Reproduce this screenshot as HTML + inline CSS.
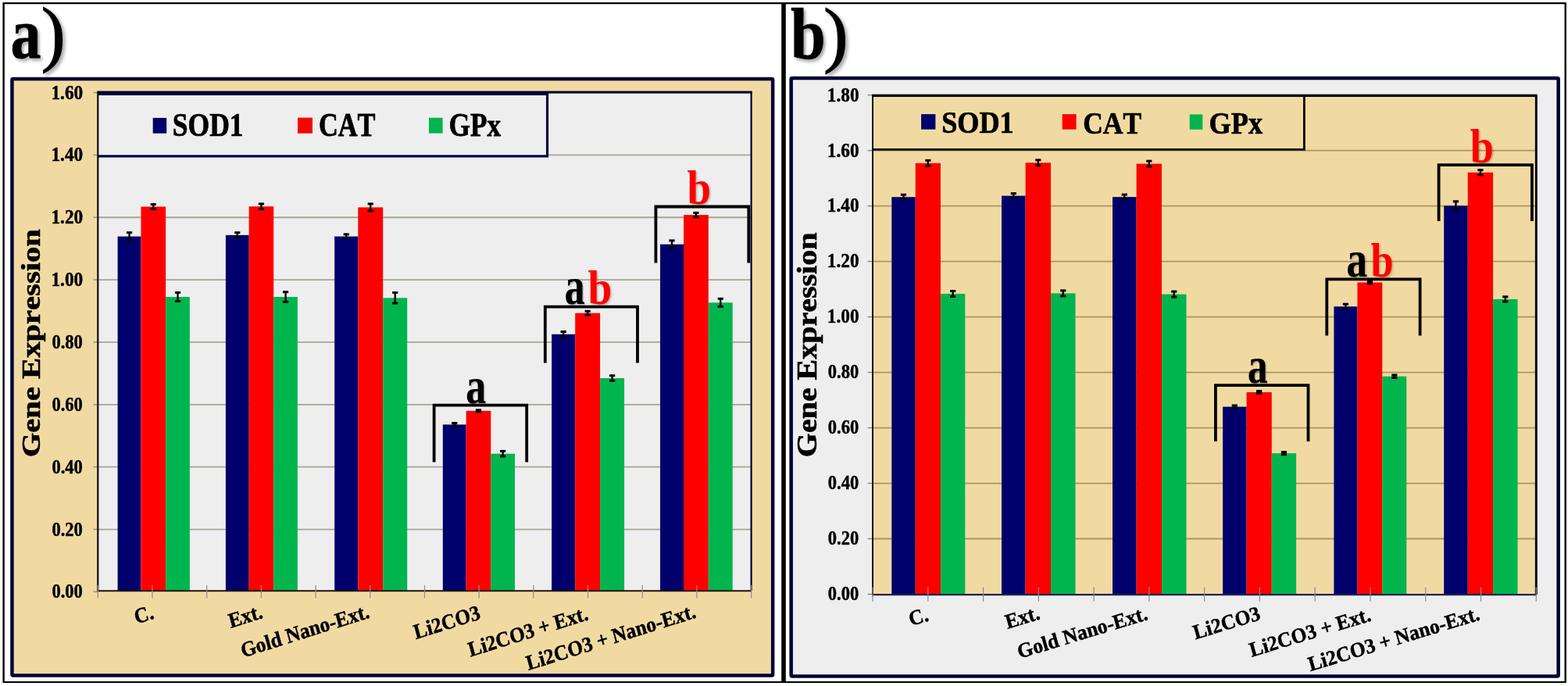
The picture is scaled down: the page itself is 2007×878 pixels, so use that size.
<!DOCTYPE html>
<html><head><meta charset="utf-8"><title>Gene Expression</title>
<style>html,body{margin:0;padding:0;background:#fff;width:2007px;height:878px;overflow:hidden}svg{display:block}</style>
</head><body>
<svg width="2007" height="878" viewBox="0 0 2007 878">
<defs>
<filter id="sh" x="-20%" y="-20%" width="150%" height="150%"><feDropShadow dx="3" dy="3" stdDeviation="2" flood-color="#000" flood-opacity="0.35"/></filter>
<filter id="sh2" x="-20%" y="-20%" width="150%" height="150%"><feDropShadow dx="1.5" dy="1.5" stdDeviation="1" flood-color="#000" flood-opacity="0.3"/></filter>
</defs>
<g font-family="'Liberation Serif', 'Times New Roman', serif" font-weight="bold" style="font-kerning:none;font-variant-ligatures:none">
<rect x="0" y="0" width="2007" height="878" fill="#fff"/>
<rect x="15.45" y="100.95" width="973.7" height="763.6" fill="#f1daa2" stroke="#000038" stroke-width="4.5" rx="1.2"/>
<rect x="125.3" y="118" width="836.3" height="638.2" fill="#eeeeee"/>
<line x1="125.3" y1="677.54" x2="961.6" y2="677.54" stroke="#a5a597" stroke-width="1.8"/>
<line x1="125.3" y1="597.68" x2="961.6" y2="597.68" stroke="#a5a597" stroke-width="1.8"/>
<line x1="125.3" y1="517.82" x2="961.6" y2="517.82" stroke="#a5a597" stroke-width="1.8"/>
<line x1="125.3" y1="437.96" x2="961.6" y2="437.96" stroke="#a5a597" stroke-width="1.8"/>
<line x1="125.3" y1="358.1" x2="961.6" y2="358.1" stroke="#a5a597" stroke-width="1.8"/>
<line x1="125.3" y1="278.24" x2="961.6" y2="278.24" stroke="#a5a597" stroke-width="1.8"/>
<line x1="125.3" y1="198.38" x2="961.6" y2="198.38" stroke="#a5a597" stroke-width="1.8"/>
<line x1="125.3" y1="118.52" x2="961.6" y2="118.52" stroke="#a5a597" stroke-width="1.8"/>
<line x1="119.5" y1="757.4" x2="125.3" y2="757.4" stroke="#8f8f85" stroke-width="1.5"/>
<line x1="119.5" y1="677.54" x2="125.3" y2="677.54" stroke="#8f8f85" stroke-width="1.5"/>
<line x1="119.5" y1="597.68" x2="125.3" y2="597.68" stroke="#8f8f85" stroke-width="1.5"/>
<line x1="119.5" y1="517.82" x2="125.3" y2="517.82" stroke="#8f8f85" stroke-width="1.5"/>
<line x1="119.5" y1="437.96" x2="125.3" y2="437.96" stroke="#8f8f85" stroke-width="1.5"/>
<line x1="119.5" y1="358.1" x2="125.3" y2="358.1" stroke="#8f8f85" stroke-width="1.5"/>
<line x1="119.5" y1="278.24" x2="125.3" y2="278.24" stroke="#8f8f85" stroke-width="1.5"/>
<line x1="119.5" y1="198.38" x2="125.3" y2="198.38" stroke="#8f8f85" stroke-width="1.5"/>
<line x1="119.5" y1="118.52" x2="125.3" y2="118.52" stroke="#8f8f85" stroke-width="1.5"/>
<rect x="150.6" y="302.6" width="29.87" height="453.4" fill="#00006c"/>
<rect x="180.47" y="264.5" width="31.66" height="491.5" fill="#ff0000"/>
<rect x="212.13" y="380" width="30.77" height="376" fill="#00b54e"/>
<rect x="288.9" y="300.9" width="29.77" height="455.1" fill="#00006c"/>
<rect x="318.67" y="264.2" width="31.56" height="491.8" fill="#ff0000"/>
<rect x="350.23" y="380" width="30.67" height="376" fill="#00b54e"/>
<rect x="428.2" y="302.6" width="30.1" height="453.4" fill="#00006c"/>
<rect x="458.3" y="265.4" width="31.9" height="490.6" fill="#ff0000"/>
<rect x="490.2" y="381.3" width="31" height="374.7" fill="#00b54e"/>
<rect x="566.8" y="543.4" width="29.84" height="212.6" fill="#00006c"/>
<rect x="596.64" y="525.8" width="31.63" height="230.2" fill="#ff0000"/>
<rect x="628.27" y="580.7" width="30.73" height="175.3" fill="#00b54e"/>
<rect x="706.1" y="427.8" width="30.1" height="328.2" fill="#00006c"/>
<rect x="736.2" y="400.7" width="31.9" height="355.3" fill="#ff0000"/>
<rect x="768.1" y="484" width="31" height="272" fill="#00b54e"/>
<rect x="845" y="312.7" width="30" height="443.3" fill="#00006c"/>
<rect x="875" y="275.1" width="31.8" height="480.9" fill="#ff0000"/>
<rect x="906.8" y="387.3" width="30.9" height="368.7" fill="#00b54e"/>
<polyline points="125.3,199.8 700.5,199.8 700.5,118" fill="none" stroke="#00003e" stroke-width="3.2"/>
<rect x="125.3" y="118" width="573.6" height="80.2" fill="#eeeeee"/>
<line x1="125.3" y1="120.3" x2="702.1" y2="120.3" stroke="#00003e" stroke-width="3.6"/>
<line x1="124.3" y1="118" x2="962.7" y2="118" stroke="#000030" stroke-width="2.8"/>
<line x1="961.6" y1="118" x2="961.6" y2="756.2" stroke="#000030" stroke-width="2.2"/>
<line x1="125.3" y1="118" x2="125.3" y2="757.2" stroke="#101010" stroke-width="2.2"/>
<line x1="125.3" y1="756.2" x2="961.6" y2="756.2" stroke="#1a1010" stroke-width="2"/>
<line x1="125.3" y1="749" x2="125.3" y2="765.5" stroke="#8f8f85" stroke-width="1.2"/>
<line x1="194.99" y1="749" x2="194.99" y2="765.5" stroke="#8f8f85" stroke-width="1.2"/>
<line x1="264.68" y1="749" x2="264.68" y2="765.5" stroke="#8f8f85" stroke-width="1.2"/>
<line x1="334.38" y1="749" x2="334.38" y2="765.5" stroke="#8f8f85" stroke-width="1.2"/>
<line x1="404.07" y1="749" x2="404.07" y2="765.5" stroke="#8f8f85" stroke-width="1.2"/>
<line x1="473.76" y1="749" x2="473.76" y2="765.5" stroke="#8f8f85" stroke-width="1.2"/>
<line x1="543.45" y1="749" x2="543.45" y2="765.5" stroke="#8f8f85" stroke-width="1.2"/>
<line x1="613.14" y1="749" x2="613.14" y2="765.5" stroke="#8f8f85" stroke-width="1.2"/>
<line x1="682.83" y1="749" x2="682.83" y2="765.5" stroke="#8f8f85" stroke-width="1.2"/>
<line x1="752.53" y1="749" x2="752.53" y2="765.5" stroke="#8f8f85" stroke-width="1.2"/>
<line x1="822.22" y1="749" x2="822.22" y2="765.5" stroke="#8f8f85" stroke-width="1.2"/>
<line x1="891.91" y1="749" x2="891.91" y2="765.5" stroke="#8f8f85" stroke-width="1.2"/>
<line x1="961.6" y1="749" x2="961.6" y2="765.5" stroke="#8f8f85" stroke-width="1.2"/>
<line x1="165.54" y1="297.7" x2="165.54" y2="307.5" stroke="#000" stroke-width="2.3"/>
<line x1="161.94" y1="297.7" x2="169.14" y2="297.7" stroke="#000" stroke-width="3"/>
<line x1="161.94" y1="307.5" x2="169.14" y2="307.5" stroke="#000" stroke-width="3"/>
<line x1="196.3" y1="261.5" x2="196.3" y2="267.5" stroke="#000" stroke-width="2.3"/>
<line x1="192.7" y1="261.5" x2="199.9" y2="261.5" stroke="#000" stroke-width="3"/>
<line x1="192.7" y1="267.5" x2="199.9" y2="267.5" stroke="#000" stroke-width="3"/>
<line x1="227.52" y1="374.5" x2="227.52" y2="385.5" stroke="#000" stroke-width="2.3"/>
<line x1="223.92" y1="374.5" x2="231.12" y2="374.5" stroke="#000" stroke-width="3"/>
<line x1="223.92" y1="385.5" x2="231.12" y2="385.5" stroke="#000" stroke-width="3"/>
<line x1="303.79" y1="297.7" x2="303.79" y2="304.1" stroke="#000" stroke-width="2.3"/>
<line x1="300.19" y1="297.7" x2="307.39" y2="297.7" stroke="#000" stroke-width="3"/>
<line x1="300.19" y1="304.1" x2="307.39" y2="304.1" stroke="#000" stroke-width="3"/>
<line x1="334.45" y1="260.9" x2="334.45" y2="267.5" stroke="#000" stroke-width="2.3"/>
<line x1="330.85" y1="260.9" x2="338.05" y2="260.9" stroke="#000" stroke-width="3"/>
<line x1="330.85" y1="267.5" x2="338.05" y2="267.5" stroke="#000" stroke-width="3"/>
<line x1="365.57" y1="373.7" x2="365.57" y2="386.3" stroke="#000" stroke-width="2.3"/>
<line x1="361.97" y1="373.7" x2="369.17" y2="373.7" stroke="#000" stroke-width="3"/>
<line x1="361.97" y1="386.3" x2="369.17" y2="386.3" stroke="#000" stroke-width="3"/>
<line x1="443.25" y1="299.9" x2="443.25" y2="305.3" stroke="#000" stroke-width="2.3"/>
<line x1="439.65" y1="299.9" x2="446.85" y2="299.9" stroke="#000" stroke-width="3"/>
<line x1="439.65" y1="305.3" x2="446.85" y2="305.3" stroke="#000" stroke-width="3"/>
<line x1="474.25" y1="260.9" x2="474.25" y2="269.9" stroke="#000" stroke-width="2.3"/>
<line x1="470.65" y1="260.9" x2="477.85" y2="260.9" stroke="#000" stroke-width="3"/>
<line x1="470.65" y1="269.9" x2="477.85" y2="269.9" stroke="#000" stroke-width="3"/>
<line x1="505.7" y1="374.5" x2="505.7" y2="388.1" stroke="#000" stroke-width="2.3"/>
<line x1="502.1" y1="374.5" x2="509.3" y2="374.5" stroke="#000" stroke-width="3"/>
<line x1="502.1" y1="388.1" x2="509.3" y2="388.1" stroke="#000" stroke-width="3"/>
<line x1="581.72" y1="541.5" x2="581.72" y2="545.3" stroke="#000" stroke-width="2.3"/>
<line x1="578.12" y1="541.5" x2="585.32" y2="541.5" stroke="#000" stroke-width="3"/>
<line x1="578.12" y1="545.3" x2="585.32" y2="545.3" stroke="#000" stroke-width="3"/>
<line x1="612.45" y1="524.8" x2="612.45" y2="526.8" stroke="#000" stroke-width="2.3"/>
<line x1="608.85" y1="524.8" x2="616.05" y2="524.8" stroke="#000" stroke-width="3"/>
<line x1="608.85" y1="526.8" x2="616.05" y2="526.8" stroke="#000" stroke-width="3"/>
<line x1="643.63" y1="577.4" x2="643.63" y2="584" stroke="#000" stroke-width="2.3"/>
<line x1="640.03" y1="577.4" x2="647.23" y2="577.4" stroke="#000" stroke-width="3"/>
<line x1="640.03" y1="584" x2="647.23" y2="584" stroke="#000" stroke-width="3"/>
<line x1="721.15" y1="424.5" x2="721.15" y2="431.1" stroke="#000" stroke-width="2.3"/>
<line x1="717.55" y1="424.5" x2="724.75" y2="424.5" stroke="#000" stroke-width="3"/>
<line x1="717.55" y1="431.1" x2="724.75" y2="431.1" stroke="#000" stroke-width="3"/>
<line x1="752.15" y1="398.3" x2="752.15" y2="403.1" stroke="#000" stroke-width="2.3"/>
<line x1="748.55" y1="398.3" x2="755.75" y2="398.3" stroke="#000" stroke-width="3"/>
<line x1="748.55" y1="403.1" x2="755.75" y2="403.1" stroke="#000" stroke-width="3"/>
<line x1="783.6" y1="480.7" x2="783.6" y2="487.3" stroke="#000" stroke-width="2.3"/>
<line x1="780" y1="480.7" x2="787.2" y2="480.7" stroke="#000" stroke-width="3"/>
<line x1="780" y1="487.3" x2="787.2" y2="487.3" stroke="#000" stroke-width="3"/>
<line x1="860" y1="307.9" x2="860" y2="317.5" stroke="#000" stroke-width="2.3"/>
<line x1="856.4" y1="307.9" x2="863.6" y2="307.9" stroke="#000" stroke-width="3"/>
<line x1="856.4" y1="317.5" x2="863.6" y2="317.5" stroke="#000" stroke-width="3"/>
<line x1="890.9" y1="272.4" x2="890.9" y2="277.8" stroke="#000" stroke-width="2.3"/>
<line x1="887.3" y1="272.4" x2="894.5" y2="272.4" stroke="#000" stroke-width="3"/>
<line x1="887.3" y1="277.8" x2="894.5" y2="277.8" stroke="#000" stroke-width="3"/>
<line x1="922.25" y1="382.3" x2="922.25" y2="392.3" stroke="#000" stroke-width="2.3"/>
<line x1="918.65" y1="382.3" x2="925.85" y2="382.3" stroke="#000" stroke-width="3"/>
<line x1="918.65" y1="392.3" x2="925.85" y2="392.3" stroke="#000" stroke-width="3"/>
<rect x="195.7" y="150.9" width="17.5" height="19.8" fill="#00006c"/>
<text transform="matrix(0.86,0,0,1,220.71,174.1)" font-size="41.38" fill="#000" stroke="#000" stroke-width="0.74">SOD1</text>
<rect x="381" y="150.6" width="19" height="20.1" fill="#ff0000"/>
<text transform="matrix(0.82,0,0,1,407.93,174.19)" font-size="41.97" fill="#000" stroke="#000" stroke-width="0.76">CAT</text>
<rect x="549" y="150.7" width="17.6" height="19.9" fill="#00b54e"/>
<text transform="matrix(0.84,0,0,1,574.48,174.19)" font-size="41.97" fill="#000" stroke="#000" stroke-width="0.76">GPx</text>
<text transform="matrix(0.87,0,0,1,66.44,765.43)" font-size="25.91" fill="#000" stroke="#000" stroke-width="0.47">0.00</text>
<text transform="matrix(0.87,0,0,1,66.44,685.57)" font-size="25.91" fill="#000" stroke="#000" stroke-width="0.47">0.20</text>
<text transform="matrix(0.87,0,0,1,66.44,605.71)" font-size="25.91" fill="#000" stroke="#000" stroke-width="0.47">0.40</text>
<text transform="matrix(0.87,0,0,1,66.44,525.85)" font-size="25.91" fill="#000" stroke="#000" stroke-width="0.47">0.60</text>
<text transform="matrix(0.87,0,0,1,66.44,445.99)" font-size="25.91" fill="#000" stroke="#000" stroke-width="0.47">0.80</text>
<text transform="matrix(0.9,0,0,1,65.44,366.13)" font-size="25.91" fill="#000" stroke="#000" stroke-width="0.47">1.00</text>
<text transform="matrix(0.9,0,0,1,65.44,286.27)" font-size="25.91" fill="#000" stroke="#000" stroke-width="0.47">1.20</text>
<text transform="matrix(0.9,0,0,1,65.44,206.41)" font-size="25.91" fill="#000" stroke="#000" stroke-width="0.47">1.40</text>
<text transform="matrix(0.9,0,0,1,65.44,126.55)" font-size="25.91" fill="#000" stroke="#000" stroke-width="0.47">1.60</text>
<text transform="matrix(0,-1,0.84,0,50.62,585.28)" font-size="40.61" fill="#000" stroke="#000" stroke-width="0.73">Gene Expression</text>
<text transform="matrix(0.89,-0.28,0.26,0.96,174.57,798.76)" font-size="27.33" fill="#000" stroke="#000" stroke-width="0.49">C.</text>
<text transform="matrix(0.89,-0.28,0.26,0.96,295.15,803.89)" font-size="27.33" fill="#000" stroke="#000" stroke-width="0.49">Ext.</text>
<text transform="matrix(0.89,-0.28,0.26,0.96,310.95,841.69)" font-size="27.33" fill="#000" stroke="#000" stroke-width="0.49">Gold Nano-Ext.</text>
<text transform="matrix(0.89,-0.28,0.26,0.96,532.31,818.19)" font-size="27.33" fill="#000" stroke="#000" stroke-width="0.49">Li2CO3</text>
<text transform="matrix(0.89,-0.28,0.26,0.96,601.95,840.74)" font-size="27.33" fill="#000" stroke="#000" stroke-width="0.49">Li2CO3 + Ext.</text>
<text transform="matrix(0.89,-0.28,0.26,0.96,676.29,858.06)" font-size="27.33" fill="#000" stroke="#000" stroke-width="0.49">Li2CO3 + Nano-Ext.</text>
<polyline points="555.6,591.6 555.6,518.6 674.2,518.6 674.2,591.6" fill="none" stroke="#000" stroke-width="3.8" stroke-linejoin="miter"/>
<polyline points="697.8,464.6 697.8,392.6 816,392.6 816,464.6" fill="none" stroke="#000" stroke-width="3.8" stroke-linejoin="miter"/>
<polyline points="839.4,336.5 839.4,264.5 958.3,264.5 958.3,336.5" fill="none" stroke="#000" stroke-width="3.8" stroke-linejoin="miter"/>
<text transform="matrix(0.79,0,0,1,596,515.75)" font-size="66.6" fill="#000" stroke="#000" stroke-width="0" filter="url(#sh2)">a</text>
<text transform="matrix(0.77,0,0,1,722.52,389.04)" font-size="68.06" fill="#000" stroke="#000" stroke-width="0" filter="url(#sh2)">a</text>
<text transform="matrix(0.89,0,0,1,752.5,389.09)" font-size="62.25" fill="#ff0000" stroke="#ff0000" stroke-width="0" filter="url(#sh2)">b</text>
<text transform="matrix(0.88,0,0,1,879.41,260.69)" font-size="62.25" fill="#ff0000" stroke="#ff0000" stroke-width="0" filter="url(#sh2)">b</text>
<text transform="matrix(0.83,0,0,1,13.38,74.28)" font-size="93.94" fill="#000" stroke="#000" stroke-width="0.75" filter="url(#sh)">a</text>
<text transform="matrix(1,0,0,1,52.8,74.28)" font-size="92.64" fill="#000" stroke="#000" stroke-width="1.11" filter="url(#sh)" font-weight="normal">)</text>
<rect x="1012.65" y="100.05" width="982" height="765.5" fill="#eeeeee" stroke="#000038" stroke-width="4.5" rx="1.2"/>
<rect x="1117" y="122.4" width="849.3" height="638.7" fill="#f1daa2"/>
<line x1="1117" y1="689.52" x2="1966.3" y2="689.52" stroke="#aa9565" stroke-width="1.8"/>
<line x1="1117" y1="618.54" x2="1966.3" y2="618.54" stroke="#aa9565" stroke-width="1.8"/>
<line x1="1117" y1="547.56" x2="1966.3" y2="547.56" stroke="#aa9565" stroke-width="1.8"/>
<line x1="1117" y1="476.58" x2="1966.3" y2="476.58" stroke="#aa9565" stroke-width="1.8"/>
<line x1="1117" y1="405.6" x2="1966.3" y2="405.6" stroke="#aa9565" stroke-width="1.8"/>
<line x1="1117" y1="334.62" x2="1966.3" y2="334.62" stroke="#aa9565" stroke-width="1.8"/>
<line x1="1117" y1="263.64" x2="1966.3" y2="263.64" stroke="#aa9565" stroke-width="1.8"/>
<line x1="1117" y1="192.66" x2="1966.3" y2="192.66" stroke="#aa9565" stroke-width="1.8"/>
<line x1="1117" y1="121.68" x2="1966.3" y2="121.68" stroke="#aa9565" stroke-width="1.8"/>
<line x1="1110.6" y1="760.5" x2="1117" y2="760.5" stroke="#8a8a8a" stroke-width="1.5"/>
<line x1="1110.6" y1="689.52" x2="1117" y2="689.52" stroke="#8a8a8a" stroke-width="1.5"/>
<line x1="1110.6" y1="618.54" x2="1117" y2="618.54" stroke="#8a8a8a" stroke-width="1.5"/>
<line x1="1110.6" y1="547.56" x2="1117" y2="547.56" stroke="#8a8a8a" stroke-width="1.5"/>
<line x1="1110.6" y1="476.58" x2="1117" y2="476.58" stroke="#8a8a8a" stroke-width="1.5"/>
<line x1="1110.6" y1="405.6" x2="1117" y2="405.6" stroke="#8a8a8a" stroke-width="1.5"/>
<line x1="1110.6" y1="334.62" x2="1117" y2="334.62" stroke="#8a8a8a" stroke-width="1.5"/>
<line x1="1110.6" y1="263.64" x2="1117" y2="263.64" stroke="#8a8a8a" stroke-width="1.5"/>
<line x1="1110.6" y1="192.66" x2="1117" y2="192.66" stroke="#8a8a8a" stroke-width="1.5"/>
<line x1="1110.6" y1="121.68" x2="1117" y2="121.68" stroke="#8a8a8a" stroke-width="1.5"/>
<rect x="1141.3" y="252.2" width="30.42" height="508.3" fill="#00006c"/>
<rect x="1171.72" y="208.8" width="32.25" height="551.7" fill="#ff0000"/>
<rect x="1203.97" y="376" width="31.33" height="384.5" fill="#00b54e"/>
<rect x="1282" y="250.6" width="30.58" height="509.9" fill="#00006c"/>
<rect x="1312.58" y="208.3" width="32.42" height="552.2" fill="#ff0000"/>
<rect x="1345" y="375.4" width="31.5" height="385.1" fill="#00b54e"/>
<rect x="1424" y="252.1" width="30.58" height="508.4" fill="#00006c"/>
<rect x="1454.58" y="209.6" width="32.42" height="550.9" fill="#ff0000"/>
<rect x="1487" y="376.6" width="31.5" height="383.9" fill="#00b54e"/>
<rect x="1565.1" y="520.6" width="30.42" height="239.9" fill="#00006c"/>
<rect x="1595.52" y="502" width="32.25" height="258.5" fill="#ff0000"/>
<rect x="1627.77" y="580.1" width="31.33" height="180.4" fill="#00b54e"/>
<rect x="1707.4" y="392.3" width="30.06" height="368.2" fill="#00006c"/>
<rect x="1737.46" y="361.5" width="31.87" height="399" fill="#ff0000"/>
<rect x="1769.33" y="481.7" width="30.97" height="278.8" fill="#00b54e"/>
<rect x="1848.2" y="263.4" width="30.52" height="497.1" fill="#00006c"/>
<rect x="1878.72" y="220.7" width="32.35" height="539.8" fill="#ff0000"/>
<rect x="1911.07" y="382.9" width="31.43" height="377.6" fill="#00b54e"/>
<polyline points="1117,191.3 1669.4,191.3 1669.4,122.4" fill="none" stroke="#0a0500" stroke-width="2.8"/>
<rect x="1117" y="122.4" width="551" height="67.5" fill="#f1daa2"/>
<line x1="1116" y1="122.4" x2="1967.75" y2="122.4" stroke="#00001a" stroke-width="3.4"/>
<line x1="1966.3" y1="122.4" x2="1966.3" y2="761.1" stroke="#00001a" stroke-width="2.9"/>
<line x1="1117" y1="122.4" x2="1117" y2="762.2" stroke="#101010" stroke-width="2"/>
<line x1="1117" y1="761.1" x2="1966.3" y2="761.1" stroke="#202050" stroke-width="2.2"/>
<line x1="1117" y1="751.5" x2="1117" y2="769.7" stroke="#8a8a8a" stroke-width="1.2"/>
<line x1="1187.78" y1="751.5" x2="1187.78" y2="769.7" stroke="#8a8a8a" stroke-width="1.2"/>
<line x1="1258.55" y1="751.5" x2="1258.55" y2="769.7" stroke="#8a8a8a" stroke-width="1.2"/>
<line x1="1329.33" y1="751.5" x2="1329.33" y2="769.7" stroke="#8a8a8a" stroke-width="1.2"/>
<line x1="1400.1" y1="751.5" x2="1400.1" y2="769.7" stroke="#8a8a8a" stroke-width="1.2"/>
<line x1="1470.88" y1="751.5" x2="1470.88" y2="769.7" stroke="#8a8a8a" stroke-width="1.2"/>
<line x1="1541.65" y1="751.5" x2="1541.65" y2="769.7" stroke="#8a8a8a" stroke-width="1.2"/>
<line x1="1612.42" y1="751.5" x2="1612.42" y2="769.7" stroke="#8a8a8a" stroke-width="1.2"/>
<line x1="1683.2" y1="751.5" x2="1683.2" y2="769.7" stroke="#8a8a8a" stroke-width="1.2"/>
<line x1="1753.97" y1="751.5" x2="1753.97" y2="769.7" stroke="#8a8a8a" stroke-width="1.2"/>
<line x1="1824.75" y1="751.5" x2="1824.75" y2="769.7" stroke="#8a8a8a" stroke-width="1.2"/>
<line x1="1895.52" y1="751.5" x2="1895.52" y2="769.7" stroke="#8a8a8a" stroke-width="1.2"/>
<line x1="1966.3" y1="751.5" x2="1966.3" y2="769.7" stroke="#8a8a8a" stroke-width="1.2"/>
<line x1="1156.51" y1="249.2" x2="1156.51" y2="255.2" stroke="#000" stroke-width="2.3"/>
<line x1="1152.91" y1="249.2" x2="1160.11" y2="249.2" stroke="#000" stroke-width="3"/>
<line x1="1152.91" y1="255.2" x2="1160.11" y2="255.2" stroke="#000" stroke-width="3"/>
<line x1="1187.84" y1="205.3" x2="1187.84" y2="212.3" stroke="#000" stroke-width="2.3"/>
<line x1="1184.24" y1="205.3" x2="1191.44" y2="205.3" stroke="#000" stroke-width="3"/>
<line x1="1184.24" y1="212.3" x2="1191.44" y2="212.3" stroke="#000" stroke-width="3"/>
<line x1="1219.63" y1="372.5" x2="1219.63" y2="379.5" stroke="#000" stroke-width="2.3"/>
<line x1="1216.03" y1="372.5" x2="1223.23" y2="372.5" stroke="#000" stroke-width="3"/>
<line x1="1216.03" y1="379.5" x2="1223.23" y2="379.5" stroke="#000" stroke-width="3"/>
<line x1="1297.29" y1="247.6" x2="1297.29" y2="253.6" stroke="#000" stroke-width="2.3"/>
<line x1="1293.69" y1="247.6" x2="1300.89" y2="247.6" stroke="#000" stroke-width="3"/>
<line x1="1293.69" y1="253.6" x2="1300.89" y2="253.6" stroke="#000" stroke-width="3"/>
<line x1="1328.79" y1="204.8" x2="1328.79" y2="211.8" stroke="#000" stroke-width="2.3"/>
<line x1="1325.19" y1="204.8" x2="1332.39" y2="204.8" stroke="#000" stroke-width="3"/>
<line x1="1325.19" y1="211.8" x2="1332.39" y2="211.8" stroke="#000" stroke-width="3"/>
<line x1="1360.75" y1="371.9" x2="1360.75" y2="378.9" stroke="#000" stroke-width="2.3"/>
<line x1="1357.15" y1="371.9" x2="1364.35" y2="371.9" stroke="#000" stroke-width="3"/>
<line x1="1357.15" y1="378.9" x2="1364.35" y2="378.9" stroke="#000" stroke-width="3"/>
<line x1="1439.29" y1="249.1" x2="1439.29" y2="255.1" stroke="#000" stroke-width="2.3"/>
<line x1="1435.69" y1="249.1" x2="1442.89" y2="249.1" stroke="#000" stroke-width="3"/>
<line x1="1435.69" y1="255.1" x2="1442.89" y2="255.1" stroke="#000" stroke-width="3"/>
<line x1="1470.79" y1="206.1" x2="1470.79" y2="213.1" stroke="#000" stroke-width="2.3"/>
<line x1="1467.19" y1="206.1" x2="1474.39" y2="206.1" stroke="#000" stroke-width="3"/>
<line x1="1467.19" y1="213.1" x2="1474.39" y2="213.1" stroke="#000" stroke-width="3"/>
<line x1="1502.75" y1="373.1" x2="1502.75" y2="380.1" stroke="#000" stroke-width="2.3"/>
<line x1="1499.15" y1="373.1" x2="1506.35" y2="373.1" stroke="#000" stroke-width="3"/>
<line x1="1499.15" y1="380.1" x2="1506.35" y2="380.1" stroke="#000" stroke-width="3"/>
<line x1="1580.31" y1="519" x2="1580.31" y2="522.2" stroke="#000" stroke-width="2.3"/>
<line x1="1576.71" y1="519" x2="1583.91" y2="519" stroke="#000" stroke-width="3"/>
<line x1="1576.71" y1="522.2" x2="1583.91" y2="522.2" stroke="#000" stroke-width="3"/>
<line x1="1611.64" y1="500.5" x2="1611.64" y2="503.5" stroke="#000" stroke-width="2.3"/>
<line x1="1608.04" y1="500.5" x2="1615.24" y2="500.5" stroke="#000" stroke-width="3"/>
<line x1="1608.04" y1="503.5" x2="1615.24" y2="503.5" stroke="#000" stroke-width="3"/>
<line x1="1643.43" y1="578.5" x2="1643.43" y2="581.7" stroke="#000" stroke-width="2.3"/>
<line x1="1639.83" y1="578.5" x2="1647.03" y2="578.5" stroke="#000" stroke-width="3"/>
<line x1="1639.83" y1="581.7" x2="1647.03" y2="581.7" stroke="#000" stroke-width="3"/>
<line x1="1722.43" y1="389.2" x2="1722.43" y2="395.4" stroke="#000" stroke-width="2.3"/>
<line x1="1718.83" y1="389.2" x2="1726.03" y2="389.2" stroke="#000" stroke-width="3"/>
<line x1="1718.83" y1="395.4" x2="1726.03" y2="395.4" stroke="#000" stroke-width="3"/>
<line x1="1753.4" y1="360.3" x2="1753.4" y2="362.7" stroke="#000" stroke-width="2.3"/>
<line x1="1749.8" y1="360.3" x2="1757" y2="360.3" stroke="#000" stroke-width="3"/>
<line x1="1749.8" y1="362.7" x2="1757" y2="362.7" stroke="#000" stroke-width="3"/>
<line x1="1784.82" y1="480" x2="1784.82" y2="483.4" stroke="#000" stroke-width="2.3"/>
<line x1="1781.22" y1="480" x2="1788.42" y2="480" stroke="#000" stroke-width="3"/>
<line x1="1781.22" y1="483.4" x2="1788.42" y2="483.4" stroke="#000" stroke-width="3"/>
<line x1="1863.46" y1="257.8" x2="1863.46" y2="269" stroke="#000" stroke-width="2.3"/>
<line x1="1859.86" y1="257.8" x2="1867.06" y2="257.8" stroke="#000" stroke-width="3"/>
<line x1="1859.86" y1="269" x2="1867.06" y2="269" stroke="#000" stroke-width="3"/>
<line x1="1894.89" y1="217.6" x2="1894.89" y2="223.8" stroke="#000" stroke-width="2.3"/>
<line x1="1891.29" y1="217.6" x2="1898.49" y2="217.6" stroke="#000" stroke-width="3"/>
<line x1="1891.29" y1="223.8" x2="1898.49" y2="223.8" stroke="#000" stroke-width="3"/>
<line x1="1926.78" y1="379.8" x2="1926.78" y2="386" stroke="#000" stroke-width="2.3"/>
<line x1="1923.18" y1="379.8" x2="1930.38" y2="379.8" stroke="#000" stroke-width="3"/>
<line x1="1923.18" y1="386" x2="1930.38" y2="386" stroke="#000" stroke-width="3"/>
<rect x="1179.1" y="146.1" width="18.3" height="19.5" fill="#00006c"/>
<text transform="matrix(0.91,0,0,1,1205.18,170.31)" font-size="39.74" fill="#000" stroke="#000" stroke-width="0.72">SOD1</text>
<rect x="1359.7" y="146.1" width="17.9" height="19.5" fill="#ff0000"/>
<text transform="matrix(0.88,0,0,1,1386.17,171.01)" font-size="40.33" fill="#000" stroke="#000" stroke-width="0.73">CAT</text>
<rect x="1522.7" y="146.4" width="16.6" height="19.4" fill="#00b54e"/>
<text transform="matrix(0.9,0,0,1,1547.62,171.01)" font-size="40.33" fill="#000" stroke="#000" stroke-width="0.73">GPx</text>
<text transform="matrix(0.89,0,0,1,1059.84,768.34)" font-size="25.32" fill="#000" stroke="#000" stroke-width="0.46">0.00</text>
<text transform="matrix(0.89,0,0,1,1059.84,697.36)" font-size="25.32" fill="#000" stroke="#000" stroke-width="0.46">0.20</text>
<text transform="matrix(0.89,0,0,1,1059.84,626.38)" font-size="25.32" fill="#000" stroke="#000" stroke-width="0.46">0.40</text>
<text transform="matrix(0.89,0,0,1,1059.84,555.4)" font-size="25.32" fill="#000" stroke="#000" stroke-width="0.46">0.60</text>
<text transform="matrix(0.89,0,0,1,1059.84,484.42)" font-size="25.32" fill="#000" stroke="#000" stroke-width="0.46">0.80</text>
<text transform="matrix(0.92,0,0,1,1058.84,413.44)" font-size="25.32" fill="#000" stroke="#000" stroke-width="0.46">1.00</text>
<text transform="matrix(0.92,0,0,1,1058.84,342.46)" font-size="25.32" fill="#000" stroke="#000" stroke-width="0.46">1.20</text>
<text transform="matrix(0.92,0,0,1,1058.84,271.48)" font-size="25.32" fill="#000" stroke="#000" stroke-width="0.46">1.40</text>
<text transform="matrix(0.92,0,0,1,1058.84,200.5)" font-size="25.32" fill="#000" stroke="#000" stroke-width="0.46">1.60</text>
<text transform="matrix(0.92,0,0,1,1058.84,129.52)" font-size="25.32" fill="#000" stroke="#000" stroke-width="0.46">1.80</text>
<text transform="matrix(0,-1,0.89,0,1044.86,585.15)" font-size="39.97" fill="#000" stroke="#000" stroke-width="0.72">Gene Expression</text>
<text transform="matrix(0.92,-0.28,0.27,0.96,1165.94,801.34)" font-size="26.74" fill="#000" stroke="#000" stroke-width="0.48">C.</text>
<text transform="matrix(0.92,-0.28,0.27,0.96,1289.38,804.92)" font-size="26.74" fill="#000" stroke="#000" stroke-width="0.48">Ext.</text>
<text transform="matrix(0.92,-0.28,0.27,0.96,1305.05,842.94)" font-size="26.74" fill="#000" stroke="#000" stroke-width="0.48">Gold Nano-Ext.</text>
<text transform="matrix(0.92,-0.28,0.27,0.96,1529.89,818.43)" font-size="26.74" fill="#000" stroke="#000" stroke-width="0.48">Li2CO3</text>
<text transform="matrix(0.92,-0.28,0.27,0.96,1602.05,840.92)" font-size="26.74" fill="#000" stroke="#000" stroke-width="0.48">Li2CO3 + Ext.</text>
<text transform="matrix(0.92,-0.28,0.27,0.96,1677.22,859.3)" font-size="26.74" fill="#000" stroke="#000" stroke-width="0.48">Li2CO3 + Nano-Ext.</text>
<polyline points="1555.9,565.1 1555.9,493.1 1674.5,493.1 1674.5,565.1" fill="none" stroke="#000" stroke-width="3.8" stroke-linejoin="miter"/>
<polyline points="1698.3,429.5 1698.3,357.4 1817.6,357.4 1817.6,429.5" fill="none" stroke="#000" stroke-width="3.8" stroke-linejoin="miter"/>
<polyline points="1841.6,283.1 1841.6,211.2 1960.9,211.2 1960.9,283.1" fill="none" stroke="#000" stroke-width="3.8" stroke-linejoin="miter"/>
<text transform="matrix(0.79,0,0,1,1596.83,489.66)" font-size="65.55" fill="#000" stroke="#000" stroke-width="0" filter="url(#sh2)">a</text>
<text transform="matrix(0.81,0,0,1,1723.36,354.05)" font-size="66.6" fill="#000" stroke="#000" stroke-width="0" filter="url(#sh2)">a</text>
<text transform="matrix(0.84,0,0,1,1754.54,354.09)" font-size="62.25" fill="#ff0000" stroke="#ff0000" stroke-width="0" filter="url(#sh2)">b</text>
<text transform="matrix(0.87,0,0,1,1881.71,208.09)" font-size="62.25" fill="#ff0000" stroke="#ff0000" stroke-width="0" filter="url(#sh2)">b</text>
<text transform="matrix(0.87,0,0,1,1012.08,75.4)" font-size="92.24" fill="#000" stroke="#000" stroke-width="0.74" filter="url(#sh)">b</text>
<text transform="matrix(1.03,0,0,1,1053.94,74.85)" font-size="92.31" fill="#000" stroke="#000" stroke-width="1.11" filter="url(#sh)" font-weight="normal">)</text>
<line x1="4.6" y1="4.1" x2="2003.7" y2="4.1" stroke="#000" stroke-width="2.2"/>
<line x1="4.6" y1="873" x2="2003.7" y2="873" stroke="#000" stroke-width="2.2"/>
<line x1="4.6" y1="3" x2="4.6" y2="874" stroke="#000" stroke-width="2.4"/>
<line x1="2003.7" y1="3" x2="2003.7" y2="874" stroke="#000" stroke-width="2.4"/>
<line x1="1003" y1="3" x2="1003" y2="874" stroke="#000" stroke-width="5.6"/>
</g>
</svg>
</body></html>
